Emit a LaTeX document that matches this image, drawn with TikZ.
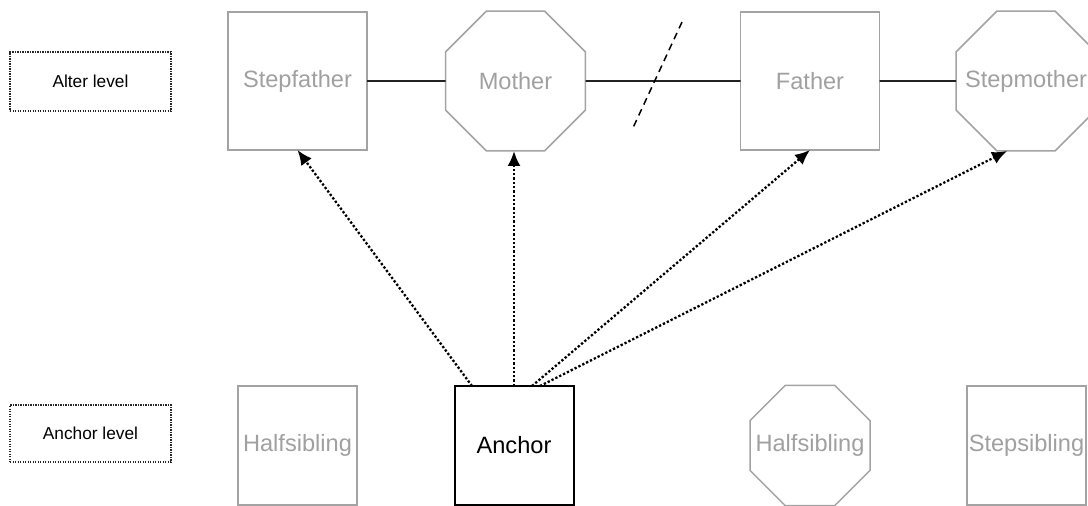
\documentclass[tikz,border=0pt]{standalone}
\usepackage{fontspec}
\setmainfont{Liberation Sans}
\usetikzlibrary{shapes.geometric,arrows.meta,calc}
\definecolor{pgray}{HTML}{A3A3A3}
\definecolor{tgray}{HTML}{A0A0A0}
\definecolor{lineblk}{HTML}{222222}
\newcommand{\zw}[1]{\makebox[0pt]{#1}}
\tikzset{
  person/.style={draw=pgray, line width=1.5pt, text=tgray, inner sep=0pt, outer sep=0pt,
    font=\fontsize{23.6}{26}\selectfont},
  sqbig/.style={person, rectangle, minimum width=139pt, minimum height=138pt},
  sqsmall/.style={person, rectangle, minimum width=119pt, minimum height=119pt},
  octbig/.style={person, regular polygon, regular polygon sides=8, minimum size=151.5pt},
  octsmall/.style={person, regular polygon, regular polygon sides=8, minimum size=129.9pt},
  anchorbox/.style={sqsmall, draw=black, line width=2pt, text=black},
  levelbox/.style={draw=black!85, line width=1.2pt, dash pattern=on 1.2pt off 1.3pt,
    minimum width=161pt, inner sep=0pt, font=\fontsize{17.3}{20}\selectfont},
  tie/.style={draw=lineblk, line width=1.6pt},
  cutline/.style={draw=black, line width=1.5pt, dash pattern=on 7pt off 5pt},
  link/.style={draw=black, line width=2.3pt, dash pattern=on 2.3pt off 2pt,
    -{Latex[length=15pt,width=13pt]}}
}
\begin{document}
\begin{tikzpicture}[x=1pt,y=-1pt]
\useasboundingbox (0,0) rectangle (1088,506);
\clip (0,0) rectangle (1088,506);
% level labels
\node[levelbox, minimum height=59pt] (alterlvl) at (90.5,81.5) {Alter level};
\node[levelbox, minimum height=57pt] (anchorlvl) at (90.5,433.5) {Anchor level};
% alter row
\node[sqbig] (stepfather) at (297.5,81) {Stepfather};
\node[octbig] (mother) at (515.5,81) {\zw{Mother}};
\node[sqbig] (father) at (810,81) {Father};
\node[octbig] (stepmother) at (1026,81) {\zw{Stepmother}};
% anchor row
\node[sqsmall] (halfsib1) at (297.5,445.5) {Halfsibling};
\node[anchorbox] (anchor) at (514,445.5) {Anchor};
\node[octsmall] (halfsib2) at (810,445.5) {\zw{Halfsibling}};
\node[sqsmall] (stepsib) at (1026.5,445.5) {\zw{Stepsibling}};
% partnership ties
\draw[tie] (stepfather.east) -- (mother.west);
\draw[tie] (mother.east) -- (father.west);
\draw[tie] (father.east) -- (stepmother.west);
% divorce mark
\coordinate (cuttop) at (682,22);
\coordinate (cutbot) at (632,130);
\draw[cutline] (cuttop) -- (cutbot);
% links from anchor
\draw[link] ($(anchor.north)+(-42,0)$) -- (stepfather.south);
\draw[link] (anchor.north) -- (anchor.north |- mother.south);
\draw[link] ($(anchor.north)+(18,0)$) -- (father.south);
\draw[link] ($(anchor.north)+(26,0)$) -- ($(stepmother.south)+(-19,0)$);
\end{tikzpicture}
\end{document}
